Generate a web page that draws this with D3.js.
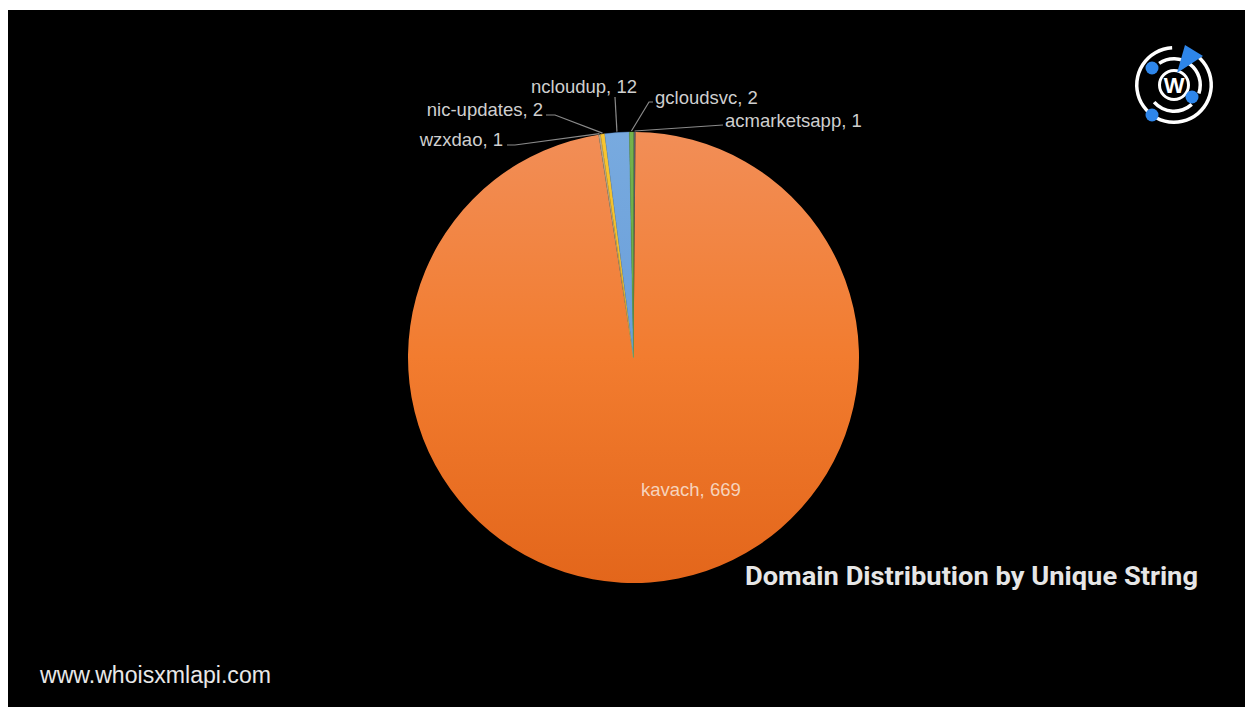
<!DOCTYPE html>
<html>
<head>
<meta charset="utf-8">
<script src="https://cdn.jsdelivr.net/npm/d3@7"></script>
<style>
  html, body { margin: 0; padding: 0; background: #ffffff; }
  svg { display: block; }
</style>
</head>
<body>
<svg id="chart" width="1245" height="707"></svg>
<script>
// ---- data ----
const categories = ["acmarketsapp", "kavach", "wzxdao", "nic-updates", "ncloudup", "gcloudsvc"];
const counts     = [1, 669, 1, 2, 12, 2];
const colorsTop  = ["#5a5f6a", "#F28E57", "#B5A78F", "#F7C531", "#78AADF", "#74B24C"];
const colorsMid  = ["#52575f", "#F27C2F", "#A89A80", "#F2BC25", "#6A9FDA", "#6BA944"];
const colorsBot  = ["#4a4f58", "#E3661B", "#9E9070", "#EDB41C", "#5B93D3", "#62A03C"];
const titleText  = "Domain Distribution by Unique String";
const siteText   = "www.whoisxmlapi.com";

// ---- layout (annotation placement, not data) ----
const W = 1245, H = 707;
const cx = 633.5, cy = 357.5, R = 225.5;
const labelLayout = {
  "acmarketsapp": { tx: 725, ty: 127, anchor: "start", elbow: [723, 125], start: [723, 125] },
  "wzxdao":       { tx: 503, ty: 146, anchor: "end",   elbow: [515, 145], start: [507, 145] },
  "nic-updates":  { tx: 543, ty: 116, anchor: "end",   elbow: [555, 115], start: [546, 115] },
  "ncloudup":     { tx: 584, ty: 93,  anchor: "middle",elbow: [615, 97],  start: [615, 97] },
  "gcloudsvc":    { tx: 655, ty: 104, anchor: "start", elbow: [649, 102], start: [653, 102] }
};

const svg = d3.select("#chart");
svg.append("rect").attr("x", 0).attr("y", 0).attr("width", W).attr("height", H).attr("fill", "#ffffff");
svg.append("rect").attr("x", 8).attr("y", 10).attr("width", W - 8).attr("height", H - 10).attr("fill", "#000000");

const defs = svg.append("defs");
categories.forEach((c, i) => {
  const g = defs.append("linearGradient")
    .attr("id", "grad" + i)
    .attr("gradientUnits", "userSpaceOnUse")
    .attr("x1", 0).attr("y1", -R).attr("x2", 0).attr("y2", R);
  g.append("stop").attr("offset", "0%").attr("stop-color", colorsTop[i]);
  g.append("stop").attr("offset", "50%").attr("stop-color", colorsMid[i]);
  g.append("stop").attr("offset", "100%").attr("stop-color", colorsBot[i]);
});

const data = categories.map((c, i) => ({ name: c, value: counts[i], i }));
const pie = d3.pie().value(d => d.value).sort(null).startAngle(0).endAngle(2 * Math.PI);
const arcs = pie(data);
const arcGen = d3.arc().innerRadius(0).outerRadius(R);

const gPie = svg.append("g").attr("transform", `translate(${cx},${cy})`);
gPie.selectAll("path.slice")
  .data(arcs)
  .join("path")
  .attr("class", "slice")
  .attr("d", arcGen)
  .attr("fill", d => `url(#grad${d.data.i})`)
  .attr("stroke", d => d.data.name === "kavach" ? "none" : colorsBot[d.data.i])
  .attr("stroke-width", 0.4);

const labelFont = "'Liberation Sans', Arial, Helvetica, sans-serif";
arcs.forEach(a => {
  const lay = labelLayout[a.data.name];
  if (!lay) return;
  const mid = (a.startAngle + a.endAngle) / 2;
  const px = cx + Math.sin(mid) * (R + 1);
  const py = cy - Math.cos(mid) * (R + 1);
  const pts = [lay.start, lay.elbow, [px, py]];
  svg.append("path")
    .attr("d", d3.line()(pts))
    .attr("fill", "none")
    .attr("stroke", "#8a8a8a")
    .attr("stroke-width", 1.2);
  svg.append("text")
    .attr("x", lay.tx).attr("y", lay.ty)
    .attr("text-anchor", lay.anchor)
    .attr("font-family", labelFont)
    .attr("font-size", 18.5)
    .attr("fill", "#cfcfcf")
    .text(`${a.data.name}, ${a.data.value}`);
});

const big = arcs.find(a => a.data.name === "kavach");
svg.append("text")
  .attr("x", 641).attr("y", 496)
  .attr("font-family", labelFont)
  .attr("font-size", 18.5)
  .attr("fill", "#F6D3BC")
  .text(`${big.data.name}, ${big.data.value}`);

svg.append("text")
  .attr("x", 745).attr("y", 585)
  .attr("font-family", "'Liberation Sans Narrow', 'Roboto', 'Liberation Sans', sans-serif")
  .attr("font-weight", "bold")
  .attr("font-size", 26)
  .attr("fill", "#e6e6e6")
  .attr("textLength", 453)
  .attr("lengthAdjust", "spacingAndGlyphs")
  .text(titleText);

svg.append("text")
  .attr("x", 40).attr("y", 683)
  .attr("font-family", labelFont)
  .attr("font-size", 23.1)
  .attr("fill", "#e8e8e8")
  .text(siteText);

// logo
const lg = svg.append("g").attr("transform", "translate(1174,85)");
const ringArc = d3.arc();
lg.append("path")
  .attr("d", ringArc({ innerRadius: 35.5, outerRadius: 39, startAngle: 0.55, endAngle: 2 * Math.PI - 0.05 }))
  .attr("fill", "#ffffff");
lg.append("path")
  .attr("d", ringArc({ innerRadius: 24.5, outerRadius: 28, startAngle: -0.6, endAngle: 1.9 }))
  .attr("fill", "#ffffff");
lg.append("path")
  .attr("d", ringArc({ innerRadius: 24.5, outerRadius: 28, startAngle: 2.4, endAngle: 4.0 }))
  .attr("fill", "#ffffff");
lg.append("circle").attr("r", 14.5).attr("fill", "none").attr("stroke", "#ffffff").attr("stroke-width", 3);
lg.append("text")
  .attr("x", 0).attr("y", 7.5)
  .attr("text-anchor", "middle")
  .attr("font-family", "'Liberation Sans', Arial, sans-serif")
  .attr("font-weight", "bold")
  .attr("font-size", 22)
  .attr("fill", "#ffffff")
  .text("W");
lg.append("path")
  .attr("d", "M3,-12 L11,-40 L29,-29 Z")
  .attr("fill", "#2E86EA");
[[-22, -17], [18, 12], [-22, 30]].forEach(p => {
  lg.append("circle").attr("cx", p[0]).attr("cy", p[1]).attr("r", 6.5).attr("fill", "#2E86EA");
});
</script>
</body>
</html>
